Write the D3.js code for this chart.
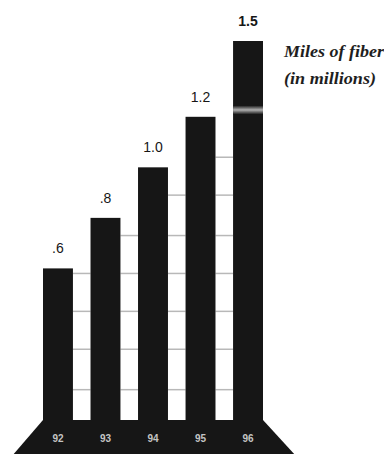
<!DOCTYPE html>
<html>
<head>
<meta charset="utf-8">
<script src="https://cdn.jsdelivr.net/npm/d3@7"></script>
<style>
  html, body { margin: 0; padding: 0; background: #fff; }
  svg { display: block; }
</style>
</head>
<body>
<div id="chart"></div>
<script>
// data
var years = ["92", "93", "94", "95", "96"];
var miles = [0.6, 0.8, 1.0, 1.2, 1.5];
var valueLabels = [".6", ".8", "1.0", "1.2", "1.5"];
var rungs = [0.12, 0.28, 0.43, 0.58, 0.73, 0.89, 1.04];
var legendLines = ["Miles of fiber", "(in millions)"];

var width = 384, height = 454;

var svg = d3.select("#chart")
    .append("svg")
    .attr("width", width)
    .attr("height", height);

var x = d3.scaleBand()
    .domain(years)
    .range([43, 263])
    .paddingInner(0.37)
    .paddingOuter(0);

var y = d3.scaleLinear()
    .domain([0, 1.5])
    .range([420, 41]);

var bw = x.bandwidth();
var dark = "#161616";

// soft streak gradient
var grad = svg.append("defs").append("linearGradient")
    .attr("id", "streak")
    .attr("x1", 0).attr("x2", 0).attr("y1", 0).attr("y2", 1);
grad.append("stop").attr("offset", "0%").attr("stop-color", dark);
grad.append("stop").attr("offset", "50%").attr("stop-color", "#b0b0b0");
grad.append("stop").attr("offset", "100%").attr("stop-color", dark);

// ladder rungs between neighbouring bars
for (var i = 0; i < years.length - 1; i++) {
    var lo = Math.min(miles[i], miles[i + 1]);
    var x0 = x(years[i]) + bw, x1 = x(years[i + 1]);
    rungs.filter(function(r) { return r < lo; }).forEach(function(r) {
        svg.append("line")
            .attr("x1", x0).attr("x2", x1)
            .attr("y1", y(r)).attr("y2", y(r))
            .attr("stroke", "#b8b8b8")
            .attr("stroke-width", 1.5);
    });
}

// bars
svg.selectAll(".bar")
    .data(miles)
    .enter().append("rect")
    .attr("class", "bar")
    .attr("x", function(d, i) { return x(years[i]); })
    .attr("y", function(d) { return y(d); })
    .attr("width", bw)
    .attr("height", function(d) { return y(0) - y(d); })
    .attr("fill", dark);

// faint light streak across the tallest bar
svg.append("rect")
    .attr("x", x(years[4]))
    .attr("y", y(1.245))
    .attr("width", bw)
    .attr("height", 9)
    .attr("fill", "url(#streak)");

// base
var left = x(years[0]), right = x(years[years.length - 1]) + bw;
svg.append("path")
    .attr("d", d3.line()([
        [left, y(0)], [right, y(0)],
        [right + 33, height + 2], [left - 31, height + 2]
    ]) + "Z")
    .attr("fill", dark);

svg.selectAll(".year")
    .data(years)
    .enter().append("text")
    .attr("class", "year")
    .attr("x", function(d) { return x(d) + bw / 2; })
    .attr("y", 442)
    .attr("text-anchor", "middle")
    .attr("font-family", "Liberation Sans, Arial, sans-serif")
    .attr("font-size", 10)
    .attr("font-weight", "bold")
    .attr("fill", "#c4c4c4")
    .text(function(d) { return d; });

// value labels
svg.selectAll(".val")
    .data(miles)
    .enter().append("text")
    .attr("class", "val")
    .attr("x", function(d, i) { return x(years[i]) + bw / 2; })
    .attr("y", function(d) { return y(d) - 15; })
    .attr("text-anchor", "middle")
    .attr("font-family", "Liberation Sans, Arial, sans-serif")
    .attr("font-size", 14)
    .attr("font-weight", function(d, i) { return i == miles.length - 1 ? "bold" : "normal"; })
    .attr("fill", "#161616")
    .text(function(d, i) { return valueLabels[i]; });

// legend
svg.selectAll(".legend")
    .data(legendLines)
    .enter().append("text")
    .attr("class", "legend")
    .attr("x", 284)
    .attr("y", function(d, i) { return 57 + i * 27; })
    .attr("font-family", "Liberation Serif, Times New Roman, serif")
    .attr("font-style", "italic")
    .attr("font-weight", "bold")
    .attr("font-size", 16)
    .attr("textLength", function(d, i) { return i == 0 ? 100 : 92; })
    .attr("lengthAdjust", "spacingAndGlyphs")
    .attr("fill", "#1e1e1e")
    .text(function(d) { return d; });
</script>
</body>
</html>
